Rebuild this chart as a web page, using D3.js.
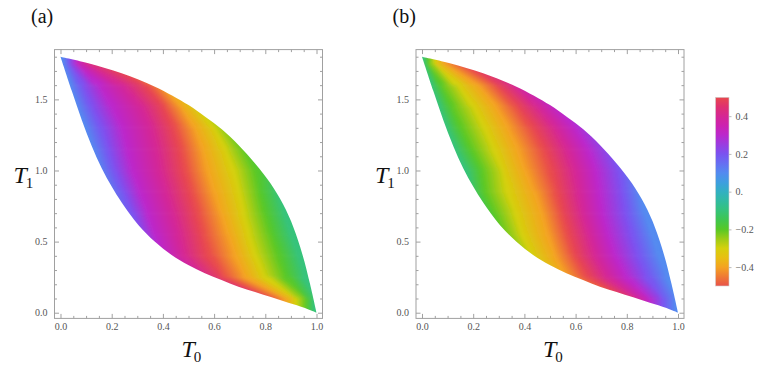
<!DOCTYPE html>
<html>
<head>
<meta charset="utf-8">
<script src="https://cdn.jsdelivr.net/npm/d3@7"></script>
<style>
body { margin: 0; background: #fff; }
text { font-family: "Liberation Serif", "DejaVu Serif", serif; }
</style>
</head>
<body>
<script>
// edge of the allowed (T0, T1) region
var upperT0 = [0, 0.109, 0.239, 0.369, 0.5, 0.565, 0.63, 0.695, 0.76, 0.82, 0.87, 0.91, 0.945, 0.975, 1.0];
var upperT1 = [1.8, 1.754, 1.683, 1.589, 1.46, 1.378, 1.29, 1.18, 1.05, 0.91, 0.76, 0.6, 0.41, 0.2, 0];
var lowerT0 = [0, 0.044, 0.083, 0.122, 0.161, 0.2, 0.239, 0.304, 0.369, 0.434, 0.499, 0.564, 0.629, 0.695, 0.76, 0.825, 0.89, 0.955, 1.0];
var lowerT1 = [1.8, 1.56, 1.355, 1.172, 1.016, 0.887, 0.775, 0.617, 0.499, 0.406, 0.335, 0.277, 0.23, 0.183, 0.145, 0.108, 0.07, 0.033, 0];

// rows (T1) where the colour bands were read, and the T0 where each band level sits
var rowT1 = [1.75, 1.6, 1.45, 1.3, 1.15, 1.0, 0.85, 0.7, 0.55, 0.4, 0.25, 0.1];

var levelsA = [0.1, 0.2, 0.3, 0.4, 0.5, -0.4, -0.3, -0.2, -0.1];
var bandsA = [
	[0.01, 0.035, 0.06, 0.095, 0.19, 0.32, 0.4, 0.49, 0.58],
	[0.035, 0.085, 0.15, 0.245, 0.34, 0.40, 0.465, 0.55, 0.64],
	[0.065, 0.12, 0.2, 0.32, 0.405, 0.47, 0.533, 0.61, 0.7],
	[0.095, 0.16, 0.24, 0.355, 0.445, 0.525, 0.6, 0.67, 0.76],
	[0.125, 0.185, 0.26, 0.375, 0.47, 0.555, 0.645, 0.72, 0.81],
	[0.15, 0.21, 0.28, 0.39, 0.485, 0.575, 0.675, 0.765, 0.855],
	[0.18, 0.245, 0.31, 0.415, 0.51, 0.6, 0.7, 0.777, 0.855],
	[0.2, 0.28, 0.34, 0.44, 0.535, 0.628, 0.715, 0.8, 0.875],
	[0.22, 0.31, 0.365, 0.465, 0.555, 0.655, 0.737, 0.825, 0.9],
	[0.25, 0.33, 0.4, 0.48, 0.58, 0.685, 0.76, 0.855, 0.93],
	[0.32, 0.4, 0.48, 0.56, 0.64, 0.72, 0.8, 0.88, 0.955],
	[0.6, 0.66, 0.72, 0.78, 0.82, 0.88, 0.92, 0.96, 0.99]
];

var levelsB = [-0.1, -0.2, -0.3, -0.4, 0.5, 0.4, 0.3, 0.2, 0.1];
var bandsB = [
	[0.005, 0.025, 0.05, 0.085, 0.16, 0.26, 0.35, 0.43, 0.52],
	[0.035, 0.075, 0.14, 0.22, 0.29, 0.36, 0.43, 0.51, 0.6],
	[0.065, 0.115, 0.2, 0.29, 0.37, 0.45, 0.53, 0.62, 0.71],
	[0.095, 0.15, 0.245, 0.335, 0.43, 0.52, 0.6, 0.69, 0.79],
	[0.13, 0.19, 0.28, 0.375, 0.475, 0.565, 0.65, 0.74, 0.82],
	[0.17, 0.235, 0.315, 0.4, 0.505, 0.595, 0.68, 0.77, 0.85],
	[0.19, 0.24, 0.335, 0.44, 0.525, 0.61, 0.693, 0.785, 0.85],
	[0.22, 0.28, 0.365, 0.468, 0.547, 0.625, 0.705, 0.797, 0.87],
	[0.25, 0.31, 0.39, 0.49, 0.57, 0.65, 0.727, 0.82, 0.9],
	[0.29, 0.35, 0.43, 0.52, 0.595, 0.675, 0.755, 0.845, 0.925],
	[0.35, 0.41, 0.48, 0.56, 0.645, 0.72, 0.8, 0.88, 0.96],
	[0.55, 0.6, 0.66, 0.72, 0.78, 0.84, 0.89, 0.94, 0.99]
];

var xTicks = [0, 0.2, 0.4, 0.6, 0.8, 1.0];
var yTicks = [0, 0.5, 1.0, 1.5];
var barTicks = [0.4, 0.2, 0, -0.2, -0.4];
var barLabels = ["0.4", "0.2", "0.", "\u22120.2", "\u22120.4"];

// cyclic colour map of the legend
var cmapStops = [-0.5, -0.45, -0.4, -0.35, -0.3, -0.25, -0.2, -0.15, -0.1, -0.05, 0, 0.05, 0.1, 0.15, 0.2, 0.25, 0.3, 0.35, 0.4, 0.45, 0.5];
var cmapColors = ["#e8524a", "#ef7a34", "#f4a321", "#e8bf12", "#d5d00c", "#9ccc17", "#57c826", "#3fc64f", "#35c37a", "#31bba0",
	"#32b0c2", "#3f9ee0", "#538af0", "#666ef2", "#7a52f0", "#9a3ce0", "#bb28cc", "#cc22b0", "#d52793", "#df3070", "#e8484c"];
var cmap = d3.scaleLinear().domain(cmapStops).range(cmapColors).interpolate(d3.interpolateRgb);

var svg = d3.select("body").append("svg")
	.attr("width", 763)
	.attr("height", 367);
var defs = svg.append("defs");

var upperPts = d3.zip(upperT0, upperT1);
var lowerPts = d3.zip(lowerT0, lowerT1);

// Split the field into cells between neighbouring rows and neighbouring band levels.
// Each cell gets a two-stop gradient running across the band, so colours stay clean.
function buildCells(x, y, levels, bands) {
	var T = [2.05].concat(rowT1, [-0.25]);
	var B = [bands[0]].concat(bands, [bands[bands.length - 1]]);
	var K = levels.length;
	var cells = [];
	for (var r = 0; r < T.length - 1; r++) {
		var ya = y(T[r]), yb = y(T[r + 1]);
		var first = cmap(levels[0]), last = cmap(levels[K - 1]);
		cells.push({pts: [[x(-0.3), ya], [x(B[r][0]), ya], [x(B[r + 1][0]), yb], [x(-0.3), yb]], solid: first});
		cells.push({pts: [[x(B[r][K - 1]), ya], [x(1.3), ya], [x(1.3), yb], [x(B[r + 1][K - 1]), yb]], solid: last});
		for (var k = 0; k < K - 1; k++) {
			var a = [x(B[r][k]), ya], b = [x(B[r][k + 1]), ya];
			var c = [x(B[r + 1][k + 1]), yb], d = [x(B[r + 1][k]), yb];
			var eL = [d[0] - a[0], d[1] - a[1]], eR = [c[0] - b[0], c[1] - b[1]];
			var nL = Math.hypot(eL[0], eL[1]), nR = Math.hypot(eR[0], eR[1]);
			var dir = [eL[0] / nL + eR[0] / nR, eL[1] / nL + eR[1] / nR];
			var nd = Math.hypot(dir[0], dir[1]);
			var n = [dir[1] / nd, -dir[0] / nd];
			var L = [(a[0] + d[0]) / 2, (a[1] + d[1]) / 2], R = [(b[0] + c[0]) / 2, (b[1] + c[1]) / 2];
			var dist = (R[0] - L[0]) * n[0] + (R[1] - L[1]) * n[1];
			if (dist < 0) { n = [-n[0], -n[1]]; dist = -dist; }
			cells.push({
				pts: [a, b, c, d],
				c0: cmap(levels[k]), c1: cmap(levels[k + 1]),
				g: [L[0], L[1], L[0] + n[0] * dist, L[1] + n[1] * dist]
			});
		}
	}
	return cells;
}

function drawPanel(left, levels, bands, tag) {
	var x = d3.scaleLinear().domain([-0.0234, 1.0234]).range([left, left + 268]);
	var y = d3.scaleLinear().domain([-0.04, 1.85]).range([318.4, 49.6]);
	var id = "p" + tag;

	// region outline: upper edge from apex to apex, back along the lower edge
	var line = d3.line().x(d => x(d[0])).y(d => y(d[1])).curve(d3.curveCatmullRom.alpha(0.5));
	var outline = line(upperPts) + line(lowerPts.slice().reverse()).replace(/^M/, "L") + "Z";
	defs.append("clipPath").attr("id", id + "clip")
		.append("path").attr("d", outline);

	var soft = defs.append("filter").attr("id", id + "soft")
		.attr("filterUnits", "userSpaceOnUse")
		.attr("x", x(-0.2)).attr("y", y(2.1))
		.attr("width", x(1.2) - x(-0.2)).attr("height", y(-0.3) - y(2.1));
	soft.append("feGaussianBlur").attr("stdDeviation", 1.6);

	var cells = buildCells(x, y, levels, bands);
	cells.forEach((c, i) => { c.id = id + "c" + i; });

	var grads = defs.selectAll("linearGradient." + id)
		.data(cells.filter(c => !c.solid))
		.enter().append("linearGradient")
		.attr("class", id)
		.attr("id", c => c.id)
		.attr("gradientUnits", "userSpaceOnUse")
		.attr("x1", c => c.g[0]).attr("y1", c => c.g[1])
		.attr("x2", c => c.g[2]).attr("y2", c => c.g[3]);
	grads.append("stop").attr("offset", 0).attr("stop-color", c => c.c0);
	grads.append("stop").attr("offset", 1).attr("stop-color", c => c.c1);

	svg.append("g")
		.attr("clip-path", "url(#" + id + "clip)")
		.append("g")
		.attr("filter", "url(#" + id + "soft)")
		.selectAll("polygon")
		.data(cells)
		.enter().append("polygon")
		.attr("points", c => c.pts.map(p => p.join(",")).join(" "))
		.attr("fill", c => c.solid ? c.solid : "url(#" + c.id + ")")
		.attr("stroke", c => c.solid ? c.solid : "url(#" + c.id + ")")
		.attr("stroke-width", 0.8);

	// frame with inward ticks on all four sides
	var frameColor = "#a0a0a0";
	svg.append("rect")
		.attr("x", x.range()[0]).attr("y", y.range()[1])
		.attr("width", x.range()[1] - x.range()[0])
		.attr("height", y.range()[0] - y.range()[1])
		.attr("fill", "none")
		.attr("stroke", frameColor)
		.attr("stroke-width", 1);

	var xMinor = d3.range(0, 1.0001, 0.05).filter(v => !xTicks.some(t => Math.abs(t - v) < 1e-6));
	var yMinor = d3.range(0, 1.8001, 0.1).filter(v => !yTicks.some(t => Math.abs(t - v) < 1e-6));

	function styleAxis(g) {
		g.select(".domain").remove();
		g.attr("color", frameColor)
			.attr("font-family", null)
			.attr("font-size", null);
		g.selectAll("text")
			.attr("fill", "#555")
			.style("font-size", "10px");
	}

	var bottom = y.range()[0], top = y.range()[1];
	var leftX = x.range()[0], rightX = x.range()[1];

	svg.append("g").attr("transform", "translate(0," + bottom + ")")
		.call(d3.axisBottom(x).tickValues(xTicks).tickSize(-4.5).tickPadding(5).tickFormat(d3.format(".1f")))
		.call(styleAxis);
	svg.append("g").attr("transform", "translate(0," + bottom + ")")
		.call(d3.axisBottom(x).tickValues(xMinor).tickSize(-2.5).tickFormat(""))
		.call(styleAxis);
	svg.append("g").attr("transform", "translate(0," + top + ")")
		.call(d3.axisTop(x).tickValues(xTicks).tickSize(-4.5).tickFormat(""))
		.call(styleAxis);
	svg.append("g").attr("transform", "translate(0," + top + ")")
		.call(d3.axisTop(x).tickValues(xMinor).tickSize(-2.5).tickFormat(""))
		.call(styleAxis);

	svg.append("g").attr("transform", "translate(" + leftX + ",0)")
		.call(d3.axisLeft(y).tickValues(yTicks).tickSize(-4.5).tickPadding(7).tickFormat(d3.format(".1f")))
		.call(styleAxis);
	svg.append("g").attr("transform", "translate(" + leftX + ",0)")
		.call(d3.axisLeft(y).tickValues(yMinor).tickSize(-2.5).tickFormat(""))
		.call(styleAxis);
	svg.append("g").attr("transform", "translate(" + rightX + ",0)")
		.call(d3.axisRight(y).tickValues(yTicks).tickSize(-4.5).tickFormat(""))
		.call(styleAxis);
	svg.append("g").attr("transform", "translate(" + rightX + ",0)")
		.call(d3.axisRight(y).tickValues(yMinor).tickSize(-2.5).tickFormat(""))
		.call(styleAxis);

	// axis titles
	var xt = svg.append("text")
		.attr("x", (leftX + rightX) / 2 - 7)
		.attr("y", 357)
		.attr("fill", "#111");
	xt.append("tspan").attr("font-style", "italic").attr("font-size", "24px").text("T");
	xt.append("tspan").attr("font-size", "15px").attr("dy", 5).attr("dx", -1).text("0");

	var yt = svg.append("text")
		.attr("x", leftX - 41)
		.attr("y", 183)
		.attr("fill", "#111");
	yt.append("tspan").attr("font-style", "italic").attr("font-size", "24px").text("T");
	yt.append("tspan").attr("font-size", "15px").attr("dy", 5).attr("dx", -1).text("1");

	svg.append("text")
		.attr("x", leftX - 23.5)
		.attr("y", 23)
		.attr("font-size", "20px")
		.attr("fill", "#111")
		.text("(" + tag + ")");
}

drawPanel(54.5, levelsA, bandsA, "a");
drawPanel(416, levelsB, bandsB, "b");

// colour legend
var bar = d3.scaleLinear().domain([-0.5, 0.5]).range([286, 97.3]);
var barGrad = defs.append("linearGradient")
	.attr("id", "bargrad")
	.attr("gradientUnits", "userSpaceOnUse")
	.attr("x1", 0).attr("x2", 0)
	.attr("y1", bar(-0.5)).attr("y2", bar(0.5));
barGrad.selectAll("stop")
	.data(cmapStops)
	.enter().append("stop")
	.attr("offset", (d, i) => i / (cmapStops.length - 1))
	.attr("stop-color", d => cmap(d));

svg.append("rect")
	.attr("x", 715.5).attr("y", bar(0.5))
	.attr("width", 13.5)
	.attr("height", bar(-0.5) - bar(0.5))
	.attr("fill", "url(#bargrad)")
	.attr("stroke", "#d0d0d0")
	.attr("stroke-width", 0.6);

var barAxis = svg.append("g").attr("transform", "translate(729,0)")
	.call(d3.axisRight(bar).tickValues(barTicks).tickSize(2.5).tickPadding(4).tickFormat((d, i) => barLabels[i]));
barAxis.select(".domain").remove();
barAxis.attr("color", "#bbb").attr("font-family", null).attr("font-size", null);
barAxis.selectAll("text").attr("fill", "#555").style("font-size", "10px");
</script>
</body>
</html>
